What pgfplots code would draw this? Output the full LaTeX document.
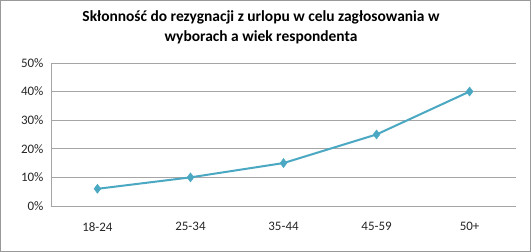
\documentclass[border=0pt]{standalone}
\usepackage{pgfplots}
\pgfplotsset{compat=1.18}
\usepackage{fontspec}
\setmainfont{Carlito}
\definecolor{linec}{RGB}{75,168,194}
\definecolor{gridc}{RGB}{165,165,165}
\begin{document}
\begin{tikzpicture}[x=1bp,y=1bp]
\draw[draw=gray!80, line width=0.8bp, fill=white] (0.5,0.5) rectangle (530.5,251.5);
\node[font=\fontsize{15.5}{20}\selectfont\bfseries, align=center] at (261,252-27) {Skłonność do rezygnacji z urlopu w celu zagłosowania w\\wyborach a wiek respondenta};
\begin{axis}[
  at={(51bp,46bp)}, anchor=south west,
  scale only axis, width=465bp, height=143bp,
  xmin=-0.5, xmax=4.5, ymin=0, ymax=50,
  xtick={0,1,2,3,4},
  xticklabels={18-24,25-34,35-44,45-59,50+},
  ytick={0,10,20,30,40,50},
  yticklabel={\pgfmathprintnumber{\tick}\%},
  /pgf/number format/assume math mode=true,
  ymajorgrids, grid style={gridc, line width=0.6bp},
  axis x line*=bottom, axis y line*=left,
  axis line style={gridc, line width=0.6bp, -},
  major tick length=0pt,
  tick label style={font=\fontsize{13}{15}\selectfont, text=black!85},
  xticklabel style={yshift=-13bp},
  yticklabel style={xshift=-4bp},
  clip=false,
]
\addplot[linec, line width=2bp, mark=diamond*, mark size=4.5bp, mark options={fill=linec, draw=linec, line width=0.5bp}]
  coordinates {(0,6) (1,10) (2,15) (3,25) (4,40)};
\end{axis}
\end{tikzpicture}
\end{document}
